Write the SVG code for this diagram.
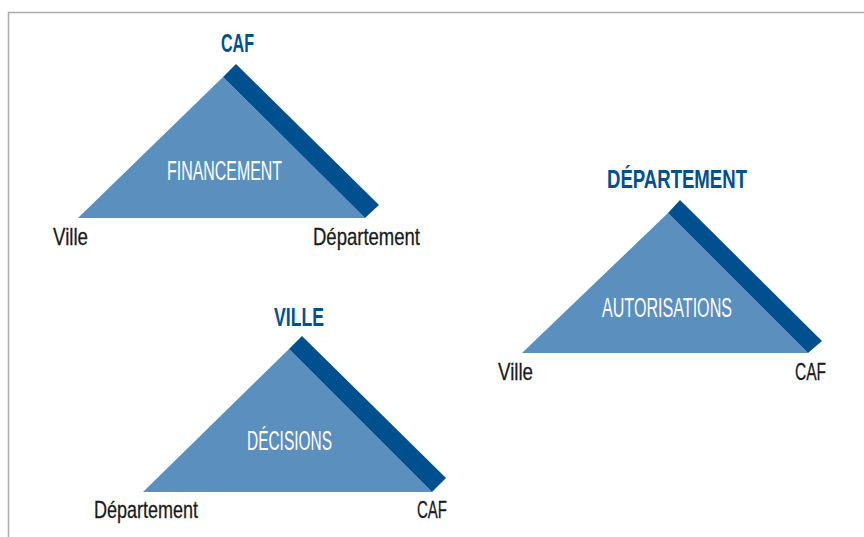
<svg xmlns="http://www.w3.org/2000/svg" width="864" height="537" viewBox="0 0 864 537">
<style>
.bg{fill:#ffffff}
.frame{fill:none;stroke:#ababab;stroke-width:1.5}
.tri{fill:#5b8fbd}
.band{fill:#00508f}
.title{font-family:"Liberation Sans",Arial,sans-serif;font-weight:bold;font-size:25px;fill:#00508f}
.inner{font-family:"Liberation Sans",Arial,sans-serif;font-size:27px;fill:#ffffff}
.corner{font-family:"Liberation Sans",Arial,sans-serif;font-size:24px;fill:#1a1a1a;stroke:#1a1a1a;stroke-width:0.3}
</style>
<rect class="bg" x="0" y="0" width="864" height="537"/>
<path class="frame" d="M8.5,540 V12.5 H870"/>
<g id="triangle-financement">
<polygon class="tri" points="223,77 78,218 365,218"/>
<polygon class="band" points="223,77 236,64 379,205 365,218"/>
<text class="title" x="221" y="52" textLength="33" lengthAdjust="spacingAndGlyphs">CAF</text>
<text class="inner" x="167" y="180" textLength="115" lengthAdjust="spacingAndGlyphs">FINANCEMENT</text>
<text class="corner" x="53" y="245" textLength="35" lengthAdjust="spacingAndGlyphs">Ville</text>
<text class="corner" x="313" y="245" textLength="107" lengthAdjust="spacingAndGlyphs">Département</text>
</g>
<g id="triangle-autorisations">
<polygon class="tri" points="668,213 522,353 808,353"/>
<polygon class="band" points="668,213 680,200 822,341 808,353"/>
<text class="title" x="607" y="188" textLength="140" lengthAdjust="spacingAndGlyphs">DÉPARTEMENT</text>
<text class="inner" x="602" y="317" textLength="130" lengthAdjust="spacingAndGlyphs">AUTORISATIONS</text>
<text class="corner" x="498" y="380" textLength="35" lengthAdjust="spacingAndGlyphs">Ville</text>
<text class="corner" x="795" y="380" textLength="31" lengthAdjust="spacingAndGlyphs">CAF</text>
</g>
<g id="triangle-decisions">
<polygon class="tri" points="289,349 143,492 432,492"/>
<polygon class="band" points="289,349 302,336 446,478 432,492"/>
<text class="title" x="274" y="326" textLength="50" lengthAdjust="spacingAndGlyphs">VILLE</text>
<text class="inner" x="247" y="450" textLength="85" lengthAdjust="spacingAndGlyphs">DÉCISIONS</text>
<text class="corner" x="94" y="518" textLength="104" lengthAdjust="spacingAndGlyphs">Département</text>
<text class="corner" x="417" y="518" textLength="30" lengthAdjust="spacingAndGlyphs">CAF</text>
</g>
<g id="connectors"/>
</svg>
